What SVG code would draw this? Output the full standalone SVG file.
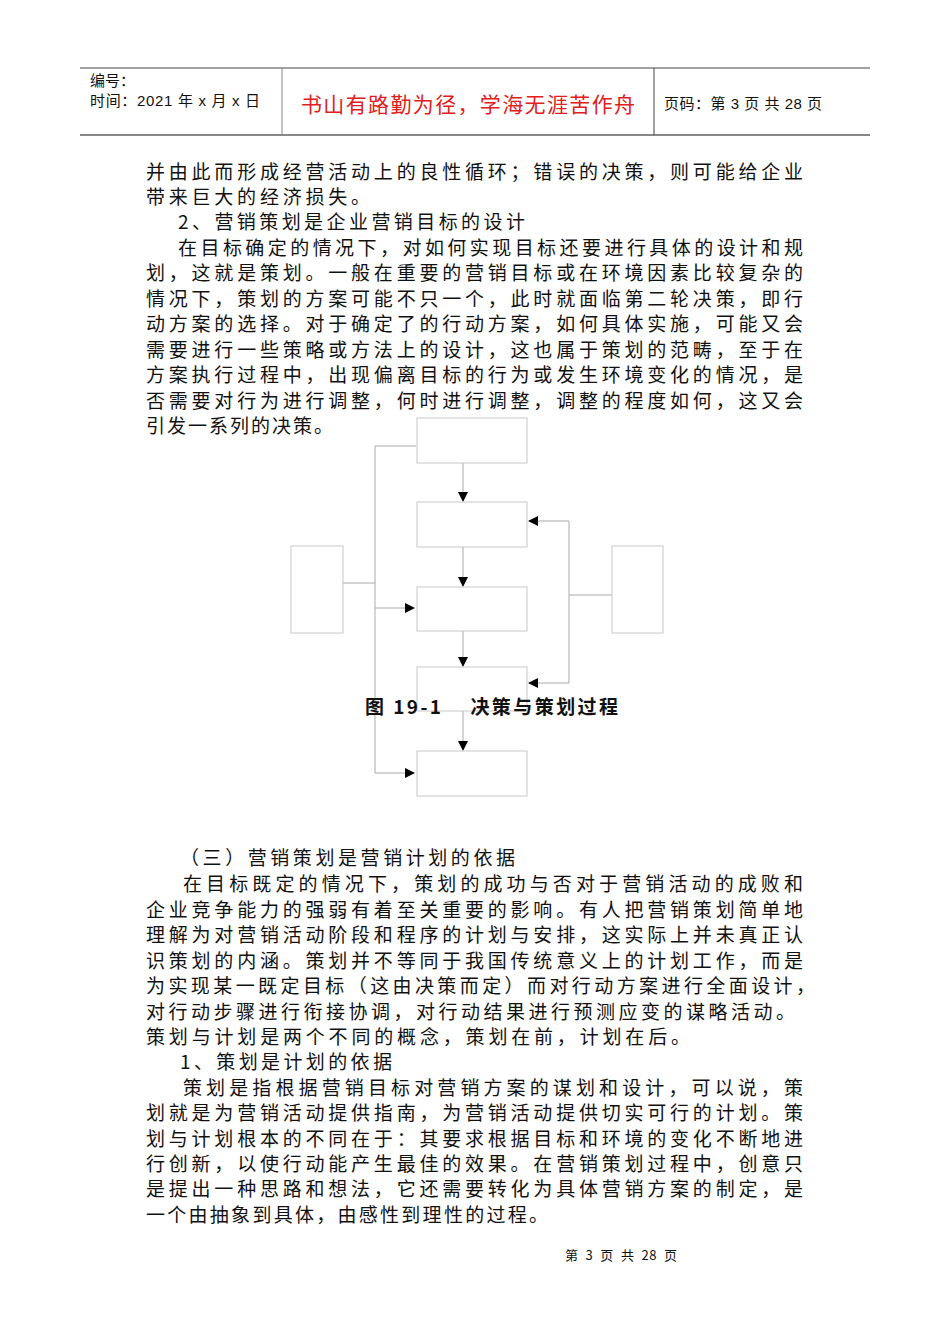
<svg xmlns="http://www.w3.org/2000/svg" width="950" height="1344" viewBox="0 0 950 1344">
<style>
.b{font-family:"Noto Sans CJK SC",sans-serif;font-size:19px;fill:#111}
.h{font-family:"Liberation Sans","Noto Sans CJK SC",sans-serif;font-size:15px;fill:#111}
.bx{fill:#fff;stroke:#c8c8c8;stroke-width:1}
.ln{stroke:#aaa;stroke-width:1;fill:none}
</style>
<defs><marker id="a" markerWidth="10" markerHeight="10" refX="9" refY="5" orient="auto" markerUnits="userSpaceOnUse"><path d="M0,0L10,5L0,10Z" fill="#000"/></marker></defs>
<rect width="950" height="1344" fill="#fff"/>
<g id="header">
<line x1="80" y1="68" x2="870" y2="68" stroke="#444" stroke-width="1"/>
<line x1="80" y1="135" x2="870" y2="135" stroke="#888" stroke-width="2"/>
<line x1="282" y1="68" x2="282" y2="135" stroke="#888"/>
<line x1="654" y1="68" x2="654" y2="135" stroke="#444"/>
<text class="h" x="90" y="86">编号：</text>
<text class="h" x="90" y="106" font-size="16" textLength="170">时间：2021 年 x 月 x 日</text>
<text x="301" y="112" font-family="Noto Sans CJK SC,sans-serif" font-size="21" fill="#e02020" textLength="334">书山有路勤为径，学海无涯苦作舟</text>
<text class="h" x="664" y="109" font-size="15" textLength="158">页码：第 3 页  共 28 页</text>
</g>
<g id="text1">
<text class="b" x="146" y="179" textLength="657">并由此而形成经营活动上的良性循环；错误的决策，则可能给企业</text>
<text class="b" x="146" y="204" textLength="224">带来巨大的经济损失。</text>
<text class="b" x="178" y="229" textLength="347">2、营销策划是企业营销目标的设计</text>
<text class="b" x="178" y="255" textLength="625">在目标确定的情况下，对如何实现目标还要进行具体的设计和规</text>
<text class="b" x="146" y="280" textLength="657">划，这就是策划。一般在重要的营销目标或在环境因素比较复杂的</text>
<text class="b" x="146" y="306" textLength="657">情况下，策划的方案可能不只一个，此时就面临第二轮决策，即行</text>
<text class="b" x="146" y="331" textLength="657">动方案的选择。对于确定了的行动方案，如何具体实施，可能又会</text>
<text class="b" x="146" y="357" textLength="657">需要进行一些策略或方法上的设计，这也属于策划的范畴，至于在</text>
<text class="b" x="146" y="382" textLength="657">方案执行过程中，出现偏离目标的行为或发生环境变化的情况，是</text>
<text class="b" x="146" y="408" textLength="657">否需要对行为进行调整，何时进行调整，调整的程度如何，这又会</text>
<text class="b" x="146" y="433" textLength="187">引发一系列的决策。</text>
</g>
<g id="connectors">
<polyline class="ln" points="416,446 375,446 375,773 414,773" marker-end="url(#a)"/>
<line class="ln" x1="343" y1="583" x2="375" y2="583"/>
<line class="ln" x1="375" y1="608" x2="414" y2="608" marker-end="url(#a)"/>
<polyline class="ln" points="569,595 612,595"/>
<polyline class="ln" points="569,683 569,521 529,521" marker-end="url(#a)"/>
<line class="ln" x1="569" y1="683" x2="529" y2="683" marker-end="url(#a)"/>
<line class="ln" x1="463" y1="463" x2="463" y2="501" marker-end="url(#a)"/>
<line class="ln" x1="463" y1="547" x2="463" y2="586" marker-end="url(#a)"/>
<line class="ln" x1="463" y1="631" x2="463" y2="666" marker-end="url(#a)"/>
<line class="ln" x1="463" y1="711" x2="463" y2="750" marker-end="url(#a)"/>
</g>
<g id="n1"><rect class="bx" x="417" y="418" width="110" height="45"/></g>
<g id="n2"><rect class="bx" x="417" y="502" width="110" height="45"/></g>
<g id="n3"><rect class="bx" x="417" y="587" width="110" height="44"/></g>
<g id="n4"><rect class="bx" x="417" y="667" width="110" height="44" style="fill:none"/></g>
<g id="n5"><rect class="bx" x="417" y="751" width="110" height="45"/></g>
<g id="nl"><rect class="bx" x="291" y="546" width="52" height="87"/></g>
<g id="nr"><rect class="bx" x="612" y="546" width="51" height="87"/></g>
<text id="caption" x="365" y="714" font-family="Noto Sans CJK SC,sans-serif" font-size="19" font-weight="bold" fill="#111" xml:space="preserve" textLength="253">图 19-1    决策与策划过程</text>
<g id="text2">
<text class="b" x="180" y="865" textLength="335">（三）营销策划是营销计划的依据</text>
<text class="b" x="183" y="891" textLength="620">在目标既定的情况下，策划的成功与否对于营销活动的成败和</text>
<text class="b" x="146" y="917" textLength="657">企业竞争能力的强弱有着至关重要的影响。有人把营销策划简单地</text>
<text class="b" x="146" y="942" textLength="657">理解为对营销活动阶段和程序的计划与安排，这实际上并未真正认</text>
<text class="b" x="146" y="968" textLength="657">识策划的内涵。策划并不等同于我国传统意义上的计划工作，而是</text>
<text class="b" x="146" y="993" textLength="669">为实现某一既定目标（这由决策而定）而对行动方案进行全面设计，</text>
<text class="b" x="146" y="1019" textLength="649">对行动步骤进行衔接协调，对行动结果进行预测应变的谋略活动。</text>
<text class="b" x="146" y="1044" textLength="544">策划与计划是两个不同的概念，策划在前，计划在后。</text>
<text class="b" x="180" y="1069" textLength="212">1、策划是计划的依据</text>
<text class="b" x="183" y="1095" textLength="620">策划是指根据营销目标对营销方案的谋划和设计，可以说，策</text>
<text class="b" x="146" y="1120" textLength="657">划就是为营销活动提供指南，为营销活动提供切实可行的计划。策</text>
<text class="b" x="146" y="1146" textLength="657">划与计划根本的不同在于：其要求根据目标和环境的变化不断地进</text>
<text class="b" x="146" y="1171" textLength="657">行创新，以使行动能产生最佳的效果。在营销策划过程中，创意只</text>
<text class="b" x="146" y="1196" textLength="657">是提出一种思路和想法，它还需要转化为具体营销方案的制定，是</text>
<text class="b" x="146" y="1222" textLength="402">一个由抽象到具体，由感性到理性的过程。</text>
</g>
<text id="footer" x="565" y="1260" font-family="Noto Sans CJK SC,sans-serif" font-size="13" fill="#111" xml:space="preserve" textLength="112">第  3  页  共  28  页</text>
</svg>
